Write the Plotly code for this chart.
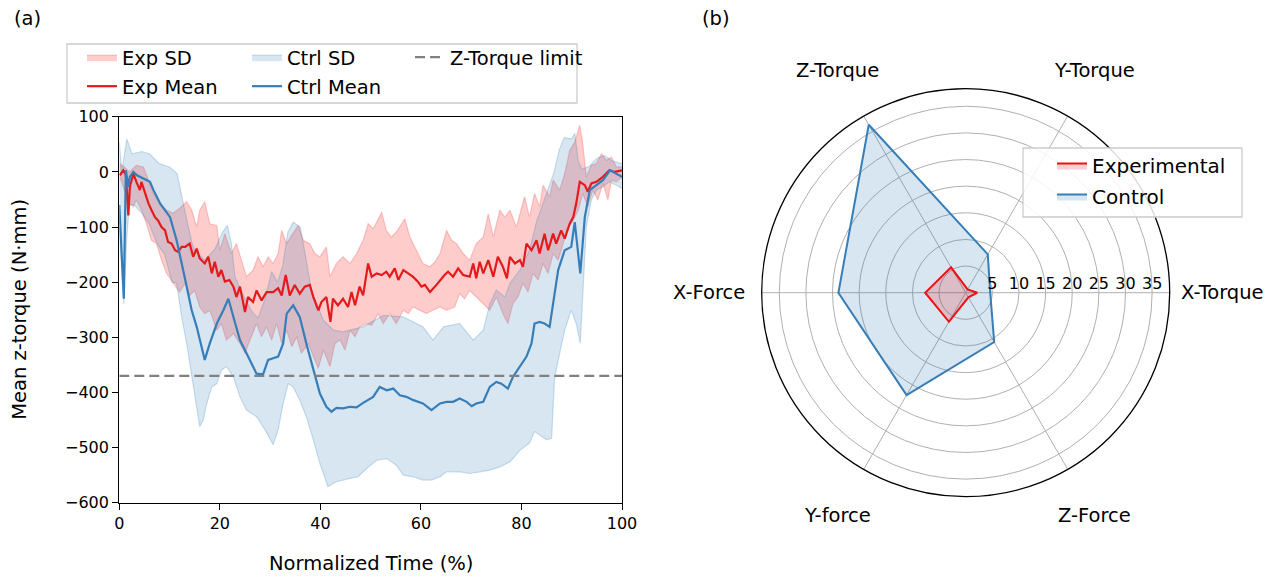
import math
import plotly.graph_objects as go

# ---------------- data: panel (a) ----------------
exp_mean = [(0.1,-6),(0.8,3),(1.3,-5),(1.8,-79),(2.1,-27),(2.8,-3),(3.4,-18),(4.1,-33),(4.4,-18),(5.1,-39),
            (5.8,-57),(6.4,-69),(7.1,-82),(7.7,-88),(8.4,-100),(9.1,-106),(9.7,-127),(10.4,-130),(11.1,-142),(11.7,-145),
            (12.4,-136),(13.1,-136),(14,-130),(14.7,-154),(15.4,-139),(16,-157),(17,-166),(17.7,-154),(18.4,-184),(19,-163),
            (19.7,-190),(20.3,-178),(21,-199),(21.9,-196),(22.7,-208),(23.3,-227),(24,-208),(25,-254),(25.6,-227),(26.6,-236),
            (27.3,-215),(28.3,-233),(29.3,-218),(30.6,-218),(31.6,-211),(32.3,-224),(33.1,-187),(33.9,-224),(34.9,-205),(35.9,-221),
            (36.9,-208),(37.9,-205),(38.6,-227),(39.6,-251),(40.2,-236),(41.2,-227),(42,-272),(42.5,-230),(43.5,-242),(44.5,-230),
            (45.5,-245),(46.2,-218),(46.9,-242),(47.8,-208),(48.5,-224),(49.5,-166),(50.2,-190),(51.2,-184),(52.2,-187),(53.1,-181),
            (53.8,-190),(54.8,-175),(55.5,-196),(56.5,-178),(57.5,-184),(58.4,-190),(59.4,-199),(60.1,-208),(60.8,-205),(61.8,-218),
            (62.8,-208),(63.8,-196),(64.7,-187),(65.4,-181),(66.4,-190),(67.4,-175),(68.4,-187),(69.7,-190),(70.4,-166),(71,-193),
            (71.7,-163),(72.4,-184),(73.4,-160),(74.4,-190),(75.3,-154),(76.3,-172),(77.1,-193),(77.7,-154),(78.7,-166),(79.7,-160),
            (80.3,-172),(81,-130),(82,-142),(83,-124),(83.6,-148),(84.6,-112),(85.3,-142),(86.3,-112),(86.9,-130),(87.9,-106),
            (88.6,-121),(89.6,-94),(90.3,-82),(90.9,-57),(91.6,-18),(92.6,-24),(93.2,-36),(93.9,-21),(94.9,-18),(96.2,-9),
            (97.5,3),(98.5,0),(100,3)]

exp_upper = [(0.1,15),(1,9),(2,0),(3.4,12),(4.8,9),(5.5,-9),(6.8,-39),(8.1,-57),(9.4,-69),(10.7,-75),
             (12,-66),(13.4,-54),(14.4,-69),(15.4,-100),(16,-69),(17,-54),(18,-94),(19.4,-97),(20,-142),(21,-112),
             (22.3,-148),(23.3,-130),(24.3,-160),(25.3,-190),(26.6,-178),(27.6,-154),(28.6,-172),(29.6,-154),(30.6,-166),(31.6,-148),
             (32.3,-106),(33.3,-130),(34.3,-115),(35.6,-97),(36.6,-124),(37.9,-130),(38.9,-148),(39.9,-154),(41.2,-136),(41.9,-190),
             (43.2,-166),(44.5,-154),(45.9,-166),(47.2,-148),(48.5,-124),(49.5,-94),(50.5,-103),(52.2,-73),(53.1,-106),(54.1,-118),
             (55.1,-109),(56.8,-85),(57.8,-118),(59.1,-142),(60.4,-166),(61.8,-172),(62.8,-163),(63.8,-148),(65.1,-106),(66.1,-124),
             (67.1,-130),(68.4,-148),(69.7,-160),(71,-130),(72.4,-118),(73.4,-76),(74.4,-118),(75.7,-69),(76.7,-82),(77.7,-69),
             (79,-100),(80.6,-45),(81.6,-82),(82.6,-39),(83.6,-63),(84.3,-24),(85.6,-45),(86.3,-15),(87.6,-33),(88.6,-3),
             (89.6,39),(90.6,54),(91.6,85),(92.2,51),(92.9,-9),(93.9,12),(94.9,15),(95.9,33),(96.9,21),(97.9,27),
             (98.9,9),(100,9)]

exp_lower = [(0.1,-9),(0.8,-27),(1.8,-57),(2.8,-63),(3.4,-51),(4.4,-69),(5.4,-94),(6.4,-124),(7.4,-130),(8.4,-160),
             (9.4,-184),(10.7,-202),(12,-218),(13.1,-202),(14,-224),(15,-215),(16,-245),(17,-257),(18,-251),(19.4,-287),
             (20.3,-275),(21.3,-305),(22.7,-293),(24,-311),(25,-329),(26,-305),(27.3,-275),(28.3,-299),(29.3,-281),(30.3,-305),
             (31.3,-275),(32.3,-311),(33.3,-287),(34.3,-317),(35.3,-299),(36.2,-329),(37.6,-311),(38.6,-335),(39.6,-356),(40.6,-323),
             (41.9,-353),(42.9,-311),(43.9,-305),(44.9,-323),(45.9,-287),(46.9,-299),(47.8,-281),(49.2,-275),(50.2,-278),(51.5,-257),
             (52.5,-275),(53.8,-257),(55.1,-275),(56.5,-251),(57.5,-257),(58.4,-245),(59.8,-251),(61.1,-257),(62.4,-251),(63.8,-245),
             (65.1,-251),(66.7,-245),(67.7,-221),(68.7,-230),(69.7,-215),(71,-227),(72.4,-239),(73.7,-251),(75,-227),(76.3,-257),
             (77.3,-275),(78.3,-239),(79.3,-227),(80.3,-202),(81.3,-218),(82.3,-184),(83.3,-196),(84.3,-166),(85.3,-184),(86.3,-148),
             (87.3,-160),(88.3,-130),(89.3,-100),(90.3,-88),(91.3,-69),(92.2,-39),(93.2,-63),(94.2,-33),(95.2,-51),(96.2,-21),
             (97.2,-51),(97.9,-15),(98.9,-18),(100,-9)]

ctrl_mean = [(0,-60),(0.9,-230),(1.3,3),(1.8,-27),(2.1,-9),(2.8,0),(3.5,-6),(4.8,-12),(6.1,-18),(6.8,-33),
             (8.1,-57),(10.1,-82),(11.4,-124),(12.7,-178),(14.4,-251),(15.4,-281),(17.0,-341),(18.0,-311),(19.4,-275),(20.7,-251),
             (21.7,-230),(22.7,-263),(24.0,-305),(25.3,-329),(27.3,-366),(28.6,-367),(29.6,-341),(30.6,-338),(31.6,-335),(32.6,-311),
             (33.3,-257),(34.6,-242),(35.9,-263),(37.2,-311),(38.6,-360),(39.9,-402),(41.2,-426),(42.2,-435),(43.2,-428),(44.5,-429),
             (45.9,-426),(47.2,-427),(48.5,-419),(50.5,-408),(51.8,-390),(53.2,-396),(54.5,-393),(55.8,-405),(57.1,-408),(58.5,-414),
             (60.4,-420),(62.1,-432),(63.8,-420),(65.1,-417),(66.4,-417),(67.7,-411),(69.1,-417),(70.1,-425),(71.0,-420),(72.4,-417),
             (73.7,-390),(75.0,-381),(76.0,-384),(77.3,-393),(78.3,-372),(79.7,-353),(81.0,-335),(82.0,-311),(82.6,-275),(83.6,-272),
             (84.6,-275),(85.6,-281),(86.3,-239),(87.3,-178),(88.6,-142),(89.9,-136),(90.6,-91),(91.7,-184),(92.6,-82),(93.6,-33),
             (94.9,-24),(96.2,-15),(97.6,3),(98.9,-3),(100,-9)]

ctrl_upper = [(0,54),(0.5,0),(1.5,60),(2.5,33),(4.5,37),(6,33),(8,15),(10,9),(11.5,-3),(12.5,-50),
              (13.5,-90),(14.5,-130),(15,-142),(17,-160),(19,-140),(20.5,-110),(21.5,-97),(22.3,-130),(23,-190),(25,-230),
              (26.5,-255),(27.6,-265),(29,-230),(30.3,-181),(31.5,-200),(32.5,-170),(33.5,-110),(34.6,-91),(36,-100),(37,-150),
              (38.2,-214),(40.6,-269),(42.6,-287),(44.5,-290),(48.5,-281),(52.5,-260),(56.5,-263),(60.4,-281),(62.4,-305),(64.5,-281),
              (67.7,-275),(70.4,-305),(72.4,-287),(73.7,-239),(75,-214),(76.7,-227),(77.7,-202),(79.7,-178),(81.6,-142),(83,-90),
              (85,-40),(86.5,0),(87.5,40),(88.5,62),(90,60),(90.6,70),(91.3,20),(92,5),(93.5,10),(95,25),
              (96.5,30),(98,20),(100,15)]

ctrl_lower = [(0,-100),(0.9,-240),(1.5,-118),(2,-60),(3,-60),(4.5,-75),(6,-95),(7.5,-130),(9,-150),(10.5,-200),
              (11.4,-202),(12.4,-263),(13.4,-311),(14.4,-372),(15.4,-432),(16,-462),(16.7,-450),(17.4,-420),(18.4,-390),(19.4,-384),
              (20.3,-360),(21.3,-353),(22.7,-372),(24,-408),(25.3,-432),(27.3,-444),(29,-468),(30.6,-495),(31.6,-468),(32.6,-420),
              (33.6,-384),(34.6,-390),(35.9,-414),(37.2,-444),(38.6,-486),(39.9,-529),(41.5,-571),(43.2,-562),(45.9,-556),(47.5,-553),
              (49.2,-538),(51.2,-523),(53.2,-520),(55.1,-532),(56.5,-550),(58.5,-553),(60.4,-559),(62.1,-559),(63.8,-553),(65.1,-544),
              (67.7,-544),(69.7,-547),(71.7,-544),(73.7,-541),(75.7,-535),(77.7,-526),(79.7,-505),(81.6,-492),(82.6,-471),(83.6,-477),
              (85,-486),(86,-483),(86.6,-372),(87.6,-329),(88.6,-287),(89.9,-251),(90.9,-275),(91.7,-311),(92.2,-227),(92.9,-100),
              (93.9,-51),(94.9,-33),(96.2,-27),(97.5,-18),(98.9,-24),(100,-30)]

z_torque_limit = -370
x_ticks = [0, 20, 40, 60, 80, 100]
y_ticks = [-600, -500, -400, -300, -200, -100, 0, 100]

# ---------------- data: panel (b) ----------------
radar_categories = ["X-Torque", "Y-Torque", "Z-Torque", "X-Force", "Y-force", "Z-Force"]
radar_angles = [0, 60, 120, 180, 240, 300]
radar_exp = [2.2, 0.7, 5.5, 7.6, 6.3, 1.0]
radar_ctrl = [4.6, 8.3, 36.4, 23.9, 22.2, 10.7]
radar_ticks = [5, 10, 15, 20, 25, 30, 35]

# ---------------- styling ----------------
FONT = "DejaVu Sans"
RED = "#e41a1c"
BLUE = "#377eb8"
RED_FILL = "rgba(255,0,0,0.2)"
BLUE_FILL = "rgba(31,119,180,0.18)"
W, H = 1275, 578
BIG = 19.5
TICK = 16


def xs(pts):
    return [p[0] for p in pts]


def ys(pts):
    return [p[1] for p in pts]


def px(x):
    return x / W


def py(y):
    return 1 - y / H


fig = go.Figure()

# Exp SD band
fig.add_trace(go.Scatter(x=xs(exp_lower), y=ys(exp_lower), mode="lines",
                         line=dict(color="rgba(240,60,60,0.25)", width=1.2),
                         showlegend=False, hoverinfo="skip"))
fig.add_trace(go.Scatter(x=xs(exp_upper), y=ys(exp_upper), mode="lines", fill="tonexty",
                         fillcolor=RED_FILL, line=dict(color="rgba(240,60,60,0.25)", width=1.2),
                         name="Exp SD", legend="legend"))
# Ctrl SD band
fig.add_trace(go.Scatter(x=xs(ctrl_lower), y=ys(ctrl_lower), mode="lines",
                         line=dict(color="rgba(31,119,180,0.22)", width=1.2),
                         showlegend=False, hoverinfo="skip"))
fig.add_trace(go.Scatter(x=xs(ctrl_upper), y=ys(ctrl_upper), mode="lines", fill="tonexty",
                         fillcolor=BLUE_FILL, line=dict(color="rgba(31,119,180,0.22)", width=1.2),
                         name="Ctrl SD", legend="legend3"))
# Means
fig.add_trace(go.Scatter(x=xs(exp_mean), y=ys(exp_mean), mode="lines",
                         line=dict(color=RED, width=2.2), name="Exp Mean", legend="legend2"))
fig.add_trace(go.Scatter(x=xs(ctrl_mean), y=ys(ctrl_mean), mode="lines",
                         line=dict(color=BLUE, width=2.2), name="Ctrl Mean", legend="legend4"))
# limit
fig.add_trace(go.Scatter(x=[0, 100], y=[z_torque_limit, z_torque_limit], mode="lines",
                         line=dict(color="#808080", width=2.2, dash="10px,5px"),
                         name="Z-Torque limit", legend="legend5"))

# Radar
fig.add_trace(go.Scatterpolar(r=radar_ctrl + radar_ctrl[:1], theta=radar_angles + radar_angles[:1],
                              mode="lines", fill="toself", fillcolor="rgba(31,119,180,0.18)",
                              line=dict(color=BLUE, width=2), name="Control", legend="legend7"))
fig.add_trace(go.Scatterpolar(r=radar_exp + radar_exp[:1], theta=radar_angles + radar_angles[:1],
                              mode="lines", fill="toself", fillcolor="rgba(228,26,28,0.2)",
                              line=dict(color="#ee1111", width=2), name="Experimental", legend="legend6"))

# axes domain (pixels -> paper)
x0p, x1p = 119.3, 622.0
ytop, ybot = 116.8, 502.7

axis_common = dict(showline=True, linecolor="black", linewidth=1.3, mirror=True,
                   ticks="outside", ticklen=6, tickwidth=1.3, tickcolor="black",
                   showgrid=False, zeroline=False, automargin=False,
                   tickfont=dict(family=FONT, size=TICK, color="black"))


def leg(xpix, ypix, size=BIG):
    return dict(x=px(xpix), y=py(ypix), xanchor="left", yanchor="top",
                bgcolor="rgba(0,0,0,0)", borderwidth=0,
                font=dict(family=FONT, size=size, color="black"), itemwidth=30)


# label row centres in pixels: row1 58, row2 87 ; radar rows 166, 197
LOFF = 20
TOFF = 41
legends = dict(
    legend=leg(123 - TOFF, 58 - LOFF),
    legend2=leg(123 - TOFF, 87 - LOFF),
    legend3=leg(288 - TOFF, 58 - LOFF),
    legend4=leg(288 - TOFF, 87 - LOFF),
    legend5=leg(451 - TOFF, 58 - LOFF),
    legend6=leg(1093 - TOFF, 166 - LOFF, 20),
    legend7=leg(1093 - TOFF, 197 - LOFF, 20),
)

# radar geometry
cx, cy, R = 965.7, 292.7, 204.0
label_r = 257.0
annotations = [
    dict(text="(a)", x=px(12), y=py(18), xref="paper", yref="paper", showarrow=False,
         xanchor="left", yanchor="middle", font=dict(family=FONT, size=BIG, color="black")),
    dict(text="(b)", x=px(700), y=py(18), xref="paper", yref="paper", showarrow=False,
         xanchor="left", yanchor="middle", font=dict(family=FONT, size=BIG, color="black")),
    dict(text="Normalized Time (%)", x=px((x0p + x1p) / 2), y=py(563), xref="paper", yref="paper",
         showarrow=False, xanchor="center", yanchor="middle", font=dict(family=FONT, size=BIG, color="black")),
    dict(text="Mean z-torque (N·mm)", x=px(20), y=py((ytop + ybot) / 2), xref="paper", yref="paper",
         showarrow=False, textangle=-90, xanchor="center", yanchor="middle",
         font=dict(family=FONT, size=BIG, color="black")),
]
for cat, ang in zip(radar_categories, radar_angles):
    a = math.radians(ang)
    annotations.append(dict(text=cat, x=px(cx + label_r * math.cos(a)), y=py(cy - label_r * math.sin(a)),
                            xref="paper", yref="paper", showarrow=False, xanchor="center", yanchor="middle",
                            font=dict(family=FONT, size=BIG, color="black")))

fig.update_layout(
    width=W, height=H,
    margin=dict(l=0, r=0, t=0, b=0, autoexpand=False),
    paper_bgcolor="white", plot_bgcolor="white",
    font=dict(family=FONT, size=TICK, color="black"),
    xaxis=dict(domain=[px(x0p), px(x1p)], range=[0, 100], tickvals=x_ticks, **axis_common),
    yaxis=dict(domain=[py(ybot), py(ytop)], range=[-600, 100], tickvals=y_ticks, **axis_common),
    polar=dict(
        domain=dict(x=[px(cx - R), px(cx + R)], y=[py(cy + R), py(cy - R)]),
        bgcolor="white",
        radialaxis=dict(range=[0, 38.3], tickvals=radar_ticks, angle=0, side="counterclockwise",
                        showline=False, ticks="", gridcolor="#b0b0b0", gridwidth=1.3,
                        tickfont=dict(family=FONT, size=TICK, color="black")),
        angularaxis=dict(rotation=0, direction="counterclockwise", tickvals=radar_angles,
                         showticklabels=False, linecolor="black", linewidth=1.3,
                         gridcolor="#b0b0b0", gridwidth=1.3, ticks=""),
    ),
    shapes=[
        dict(type="rect", xref="paper", yref="paper", x0=px(67), x1=px(577),
             y0=py(103), y1=py(44), line=dict(color="#cccccc", width=1.3),
             fillcolor="rgba(255,255,255,0.8)", layer="below"),
        dict(type="rect", xref="paper", yref="paper", x0=px(1023), x1=px(1242),
             y0=py(217), y1=py(148), line=dict(color="#cccccc", width=1.3),
             fillcolor="rgba(255,255,255,0.85)", layer="above"),
    ],
    annotations=annotations,
    **legends,
)

fig.write_html("out.html", config={"displayModeBar": False},
               post_script="document.body.style.margin='0px';document.body.style.padding='0px';")
